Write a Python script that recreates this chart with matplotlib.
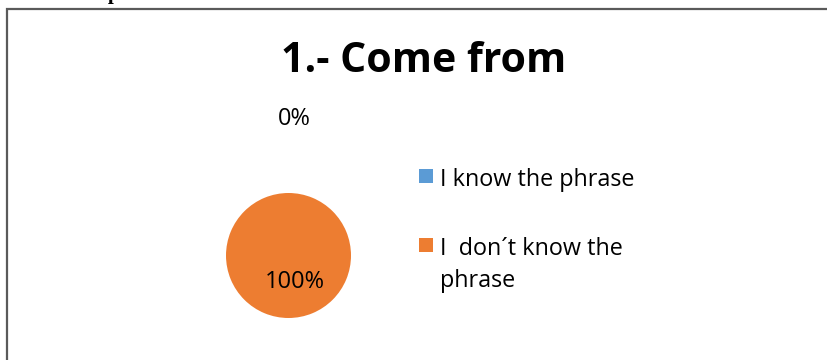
import matplotlib
matplotlib.use("Agg")
import matplotlib.pyplot as plt
from matplotlib.patches import Rectangle
import numpy as np

categories = ["I know the phrase", "I  don\u00b4t know the\nphrase"]
values = [0, 100]
colors = ["#5B9BD5", "#ED7D31"]
title = "1.- Come from"
caption = "Graphic  Come from"

W, H = 828, 360
fig = plt.figure(figsize=(W / 100, H / 100), dpi=100)
fig.patch.set_facecolor("white")

def fx(px):
    return px / W

def fy(py):
    return 1 - py / H

# caption above the chart frame, cut off at the page edge
fig.text(fx(72), fy(-1.0), caption, fontsize=15, fontweight="bold",
         family="Liberation Serif", ha="left", va="baseline", color="black")

# chart frame
fig.patches.append(Rectangle((fx(7.5), fy(380)), fx(900), fy(9.5) - fy(380),
                             transform=fig.transFigure, fill=False,
                             edgecolor="#5a5a5a", linewidth=1.6))

fig.text(fx(424), fy(62), title, fontsize=29.5, fontweight="bold",
         family="Open Sans", ha="center", va="center", color="black")

# pie
cx, cy, r = 288.5, 255.5, 62.5
ax = fig.add_axes([fx(cx - r), fy(cy + r), fx(2 * r), (2 * r) / H])
wedges, _ = ax.pie(values, colors=colors, startangle=90, counterclock=False,
                   radius=1, wedgeprops=dict(linewidth=0))
ax.set_xlim(-1, 1)
ax.set_ylim(-1, 1)
ax.set_aspect("equal")
ax.axis("off")

total = sum(values)
label_dist = [2.19, 0.43]
label_shift = [0.10, 0.10]
for w, v, d, s in zip(wedges, values, label_dist, label_shift):
    ang = np.deg2rad((w.theta1 + w.theta2) / 2)
    ax.text(d * np.cos(ang) + s, d * np.sin(ang), f"{v / total * 100:.0f}%",
            ha="center", va="center", fontsize=17, family="Open Sans",
            color="black", clip_on=False)

# legend: square marker plus text lines drawn on fixed baselines
leg_base = [186, 255]
line_gap = 32
for cat, col, base in zip(categories, colors, leg_base):
    fig.patches.append(Rectangle((fx(419), fy(base - 3)), fx(14), 14 / H,
                                 transform=fig.transFigure,
                                 facecolor=col, edgecolor="none"))
    for i, line in enumerate(cat.split("\n")):
        fig.text(fx(440), fy(base + i * line_gap), line, fontsize=16.8,
                 family="Open Sans", ha="left", va="baseline", color="black")

fig.savefig("out.png", dpi=100)
